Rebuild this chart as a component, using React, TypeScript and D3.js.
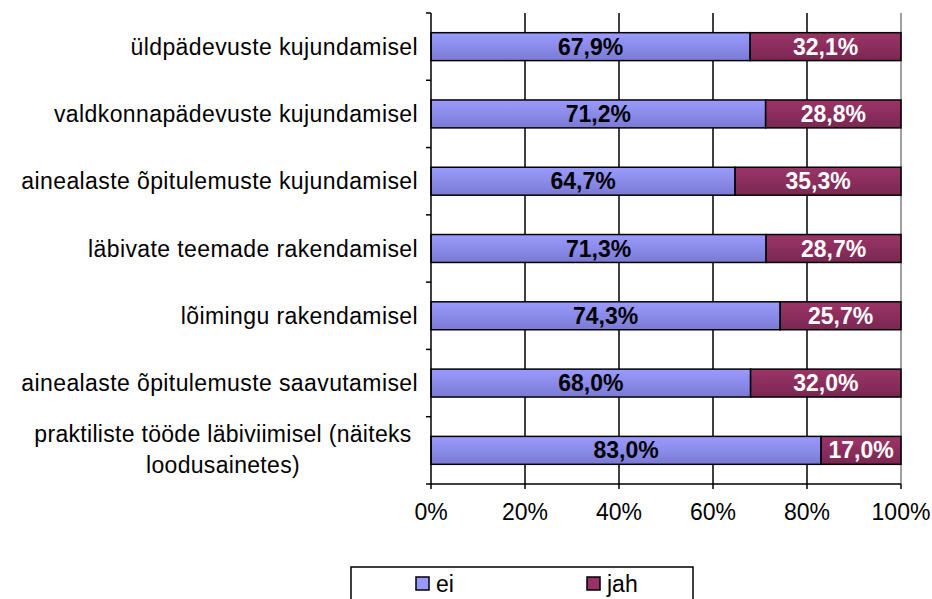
import React from "react";
import * as d3 from "d3";

const categories: string[][] = [
  ["üldpädevuste kujundamisel"],
  ["valdkonnapädevuste kujundamisel"],
  ["ainealaste õpitulemuste kujundamisel"],
  ["läbivate teemade rakendamisel"],
  ["lõimingu rakendamisel"],
  ["ainealaste õpitulemuste saavutamisel"],
  ["praktiliste tööde läbiviimisel (näiteks", "loodusainetes)"],
];
const eiValues = [67.9, 71.2, 64.7, 71.3, 74.3, 68.0, 83.0];
const jahValues = [32.1, 28.8, 35.3, 28.7, 25.7, 32.0, 17.0];
const xTicks = [0, 20, 40, 60, 80, 100];
const seriesNames = ["ei", "jah"];

const W = 932;
const H = 599;
const left = 431;
const right = 901;
const top = 13;
const bottom = 484;
const FONT = "Liberation Sans, Arial, sans-serif";
const FS = 23;

const fmt = (v: number) => v.toFixed(1).replace(".", ",") + "%";

export default function App() {
  const x = d3.scaleLinear().domain([0, 100]).range([left, right]);
  const y = d3
    .scaleBand<number>()
    .domain(d3.range(categories.length))
    .range([top, bottom])
    .paddingInner(0.585)
    .paddingOuter(0.2925);
  const bw = y.bandwidth();
  const step = y.step();

  return (
    <svg
      width={W}
      height={H}
      style={{ position: "absolute", left: 0, top: 0, background: "#fff" }}
      fontFamily={FONT}
    >
      <defs>
        <linearGradient id="gEi" x1="0" y1="0" x2="0" y2="1">
          <stop offset="0" stopColor="#9b9bff" />
          <stop offset="1" stopColor="#7a7ad4" />
        </linearGradient>
        <linearGradient id="gJah" x1="0" y1="0" x2="0" y2="1">
          <stop offset="0" stopColor="#9c3568" />
          <stop offset="1" stopColor="#7a2752" />
        </linearGradient>
      </defs>
      <rect x={0} y={0} width={W} height={H} fill="#fff" />
      {xTicks.slice(1, -1).map((t) => (
        <line key={t} x1={x(t)} x2={x(t)} y1={top} y2={bottom} stroke="#000" strokeWidth={1.5} />
      ))}
      <line x1={x(100)} x2={x(100)} y1={top} y2={bottom} stroke="#808080" strokeWidth={1.5} />
      {categories.map((c, i) => {
        const y0 = y(i)!;
        const e = eiValues[i];
        const j = jahValues[i];
        return (
          <g key={i}>
            <rect x={x(0)} y={y0} width={x(e) - x(0)} height={bw} fill="url(#gEi)" stroke="#000" strokeWidth={1.5} />
            <rect x={x(e)} y={y0} width={x(e + j) - x(e)} height={bw} fill="url(#gJah)" stroke="#000" strokeWidth={1.5} />
            <text x={(x(0) + x(e)) / 2} y={y0 + bw / 2 + 8} textAnchor="middle" fontWeight="bold" fontSize={FS} fill="#000">
              {fmt(e)}
            </text>
            <text x={(x(e) + x(e + j)) / 2} y={y0 + bw / 2 + 8} textAnchor="middle" fontWeight="bold" fontSize={FS} fill="#fff">
              {fmt(j)}
            </text>
          </g>
        );
      })}
      <line x1={left} x2={left} y1={top} y2={bottom} stroke="#000" strokeWidth={1.5} />
      {d3.range(categories.length + 1).map((k) => (
        <line key={k} x1={left - 5} x2={left} y1={top + k * step} y2={top + k * step} stroke="#000" strokeWidth={1.5} />
      ))}
      <line x1={left} x2={right} y1={bottom} y2={bottom} stroke="#000" strokeWidth={1.5} />
      {xTicks.map((t) => (
        <g key={t}>
          <line x1={x(t)} x2={x(t)} y1={bottom} y2={bottom + 5} stroke="#000" strokeWidth={1.5} />
          <text x={x(t)} y={520} textAnchor="middle" fontSize={FS} fill="#000">
            {t + "%"}
          </text>
        </g>
      ))}
      {categories.map((lines, i) => {
        const cy = y(i)! + bw / 2;
        if (lines.length === 1) {
          return (
            <text key={i} x={418} y={cy + 8} textAnchor="end" fontSize={FS} letterSpacing={0.4} fill="#000">
              {lines[0]}
            </text>
          );
        }
        return (
          <text key={i} x={223} y={cy - 8} textAnchor="middle" fontSize={FS} letterSpacing={0.3} fill="#000">
            {lines.map((l, k) => (
              <tspan key={k} x={223} dy={k === 0 ? 0 : 31}>
                {l}
              </tspan>
            ))}
          </text>
        );
      })}
      <rect x={351} y={567} width={342} height={50} fill="#fff" stroke="#000" strokeWidth={1.5} />
      {seriesNames.map((s, k) => {
        const lx = k === 0 ? 416 : 587;
        return (
          <g key={s}>
            <rect x={lx} y={577} width={13} height={13} fill={k === 0 ? "#9999ff" : "#993366"} stroke="#000" strokeWidth={1.5} />
            <text x={lx + 20} y={592} fontSize={FS} fill="#000">
              {s}
            </text>
          </g>
        );
      })}
    </svg>
  );
}
